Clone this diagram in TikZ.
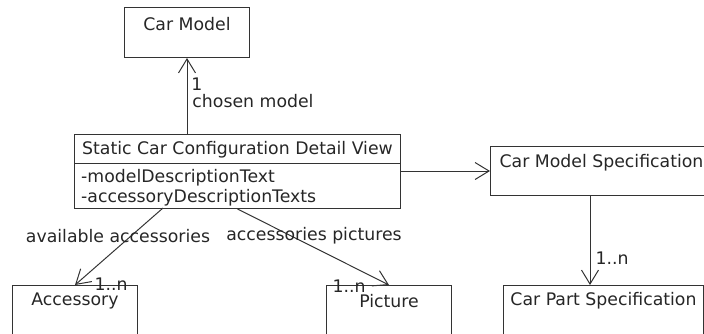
\documentclass[tikz,border=0pt]{standalone}
\usepackage{fontspec}
\setmainfont{DejaVu Sans}
\usetikzlibrary{arrows.meta,positioning}

\tikzset{
  classbox/.style={draw=black!80, line width=1pt, rectangle, anchor=north west, inner sep=0pt},
  classname/.style={inner sep=0pt, text=black!85},
  rolelabel/.style={inner sep=0pt, text=black!85},
  assoc/.style={draw=black!80, line width=1pt, -{Straight Barb[length=14pt,width=17pt]}}
}

\begin{document}
\begin{tikzpicture}[x=1pt, y=-1pt, font=\fontsize{17.3}{20}\selectfont]
    \path[use as bounding box, clip] (0,0) rectangle (704,333);

    % Classes
    \node[classbox, minimum width=125pt, minimum height=50pt] (carmodel) at (124,7) {};
    \node[classbox, minimum width=326pt, minimum height=74pt] (static) at (74,134) {};
    \node[classbox, minimum width=222pt, minimum height=49pt] (cms) at (490,146) {};
    \node[classbox, minimum width=125pt, minimum height=60pt] (accessory) at (12,285) {};
    \node[classbox, minimum width=125pt, minimum height=60pt] (picture) at (326,285) {};
    \node[classbox, minimum width=200pt, minimum height=60pt] (carpart) at (503,285) {};
    \draw[black!80, line width=1pt] ([yshift=-29pt]static.north west) -- ([yshift=-29pt]static.north east);

    % Class names and attributes
    \node[classname] (carmodeltitle) at ([yshift=-17pt]carmodel.north) {Car Model};
    \node[classname] (statictitle) at ([yshift=-16pt]static.north) {Static Car Configuration Detail View};
    \node[classname, anchor=west, align=left] (staticattrs) at (81,188) {-modelDescriptionText\\-accessoryDescriptionTexts};
    \node[classname] (cmstitle) at ([yshift=-17pt]cms.north) {Car Model Specification};
    \node[classname] (accessorytitle) at ([yshift=-16pt]accessory.north) {Accessory};
    \node[classname] (picturetitle) at ([yshift=-16pt]picture.north) {Picture};
    \node[classname] (carparttitle) at ([yshift=-16pt]carpart.north) {Car Part Specification};

    % Associations
    \coordinate (accstart) at (163,208);
    \coordinate (specstart) at (590,195);
    \draw[assoc] (static.north -| carmodel.south) -- (carmodel.south);
    \draw[assoc] (static.east |- cms.west) -- (cms.west);
    \draw[assoc] (accstart) -- (accessory.north);
    \draw[assoc] (static.south) -- (picture.north);
    \draw[assoc] (specstart) -- (specstart |- carpart.north);

    % Roles and multiplicities
    \node[rolelabel] (modelmult) at (197,84) {1};
    \node[rolelabel] (modelrole) at (253,101) {chosen model};
    \node[rolelabel] (accrole) at (118,236) {available accessories};
    \node[rolelabel] (picrole) at (314,236) {accessories pictures};
    \node[rolelabel] (accmult) at (111,284) {1..n};
    \node[rolelabel] (picmult) at (349,286) {1..n};
    \node[rolelabel] (partmult) at (612,258) {1..n};
\end{tikzpicture}
\end{document}
